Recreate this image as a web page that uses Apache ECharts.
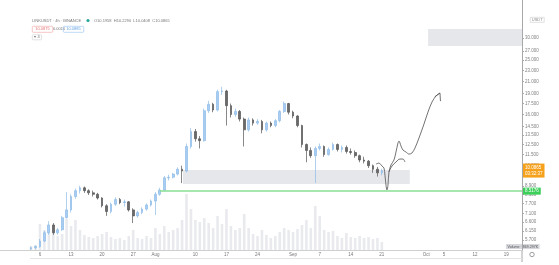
<!DOCTYPE html>
<html><head><meta charset="utf-8">
<script src="https://cdn.jsdelivr.net/npm/echarts@6/dist/echarts.min.js"></script>
<style>html,body{margin:0;padding:0;background:#fff}#c{width:559px;height:265px}</style>
</head><body><div id="c"></div>
<script>
// ---- data (daily candles) ----
const firstDay = '2020-07-04';
const opens = [
 5.30,5.35,5.40,5.65,6.05,6.45,6.05,6.20,6.85,7.30,
 8.15,8.55,8.75,8.55,8.40,8.30,8.05,7.55,7.20,7.65,
 7.95,7.75,7.80,7.30,6.95,7.15,7.35,7.60,7.85,8.30,
 8.60,9.50,9.55,9.80,10.20,10.05,12.30,13.90,13.10,12.90,
 16.50,17.40,16.60,19.30,19.40,17.20,16.00,16.40,15.40,14.10,
 15.30,14.90,15.10,14.10,14.90,14.60,15.20,16.40,17.50,16.30,
 15.80,14.60,12.50,11.90,11.40,12.10,12.30,11.50,12.00,12.50,
 12.00,12.20,11.80,11.70,11.40,11.00,10.90,10.50,10.20,9.90];
const closes = [
 5.35,5.40,5.65,6.05,6.45,6.05,6.20,6.85,7.30,8.15,
 8.55,8.75,8.55,8.40,8.30,8.05,7.55,7.20,7.65,7.95,
 7.75,7.80,7.30,6.95,7.15,7.35,7.60,7.85,8.30,8.60,
 9.50,9.55,9.80,10.20,10.05,12.30,13.90,13.10,12.90,16.50,
 17.40,16.60,19.30,19.40,17.20,16.00,16.40,15.40,14.10,15.30,
 14.90,15.10,14.10,14.90,14.60,15.20,16.40,17.50,16.30,15.80,
 14.60,12.50,11.90,11.40,12.10,12.30,11.50,12.00,12.50,12.00,
 12.20,11.80,11.70,11.40,11.00,10.90,10.50,10.20,9.90,10.0865];
const highs = [
 5.40,5.45,5.75,6.15,6.65,6.55,6.30,6.95,8.45,8.30,
 8.70,8.90,8.85,8.65,8.55,8.40,8.10,7.65,7.75,8.10,
 8.05,7.95,7.85,7.40,7.25,7.45,7.70,7.95,8.45,8.75,
 9.65,9.75,9.90,10.35,10.50,12.60,14.30,14.20,13.40,16.80,
 17.90,17.60,19.60,20.10,19.60,17.50,16.80,16.60,15.60,15.60,
 15.50,15.40,15.30,15.10,15.10,15.40,16.60,17.80,17.60,16.50,
 15.90,14.70,12.60,12.20,12.30,12.60,12.40,12.20,12.70,12.60,
 12.40,12.40,12.10,11.90,11.50,11.30,11.00,10.60,10.40,10.229];
const lows = [
 5.25,5.28,5.35,5.60,5.95,5.95,5.95,6.15,6.80,7.15,
 8.00,8.35,8.40,8.25,8.15,7.95,7.45,6.95,7.10,7.55,
 7.65,7.50,7.20,6.55,6.85,7.05,7.25,7.50,7.00,8.20,
 8.55,9.30,9.45,9.70,9.10,9.95,12.10,12.80,12.10,12.80,
 16.20,16.30,16.40,18.80,14.60,15.60,15.70,15.10,12.30,13.90,
 14.60,14.70,13.70,13.90,14.40,14.40,15.00,16.20,16.00,15.50,
 14.40,12.20,10.80,11.20,9.10,11.90,11.30,11.40,11.90,11.80,
 11.70,11.60,11.50,11.20,10.80,10.70,10.30,9.90,9.60,9.70];
const volumes = [
 4,5,26,20,22,18,14,16,31,24,
 30,20,15,13,12,14,16,18,13,11,
 12,10,14,20,12,11,14,12,22,16,
 24,18,20,22,30,56,41,30,28,32,
 27,22,34,26,41,24,20,22,36,22,
 16,14,20,15,12,14,18,22,20,18,
 21,25,30,22,44,34,20,18,19,14,
 12,17,13,12,14,12,13,11,12,8];

const priceTicks = [5.7,6.15,6.6,7.1,7.7,8.3,8.9,10.5,11.5,12.5,13.5,14.5,16,17.5,19,21,23,25,27,30];
const dateTicks = ['2020-07-06','2020-07-13','2020-07-20','2020-07-27','2020-08-01','2020-08-10','2020-08-17','2020-08-24','2020-09-01','2020-09-07','2020-09-14','2020-09-21','2020-10-01','2020-10-05','2020-10-12','2020-10-19'];
const dateTickLabels = ['6','13','20','27','Aug','10','17','24','Sep','7','14','21','Oct','5','12','19'];

const lastPrice = 10.0865;
const countdown = '03:32:37';
const supportLevel = 8.5176;
const supportStart = '2020-08-02T00:00:00Z';
const zoneBox = ['2020-08-07T05:00:00Z','2020-09-27T07:00:00Z', 9.03, 10.13];
const targetBox = ['2020-10-01T10:00:00Z', 28.1, 32.3];
const axisStart = '2020-06-27T00:00:00Z';
const axisEnd = '2020-10-22T13:30:00Z';

// freehand drawings: [days after drawBase, price]
const drawBase = '2020-07-06T00:00:00Z';
const drawArrow = [[75.7,10.64],[76.35,10.73],[77.03,10.47],[77.48,10.30],[77.7,9.72],[77.93,8.95],[78.15,8.60],[78.38,8.95],[78.6,9.97],[79.05,10.56],[79.73,11.0],[80.18,11.75],[80.63,12.65],[80.86,12.86],[81.31,12.34],[81.76,11.94],[82.43,11.75],[83.11,11.55],[83.78,11.65],[84.46,12.14],[85.36,13.18],[86.49,14.79],[87.39,16.32],[88.29,17.72],[89.19,18.62],[90.09,19.08]];
const drawArrowHead = [[88.9,18.5],[90.09,19.08],[90.2,17.85]];
const drawSmall = [[78.6,9.97],[79.28,10.47],[80.18,10.82],[81.08,11.09],[81.76,11.09],[82.2,10.82]];

// ---- build: x axis measured in days after drawBase ----
const DAY = 86400000;
const tb = Date.parse(drawBase);
const dayOf = s => (Date.parse(s.length === 10 ? s + 'T00:00:00Z' : s) - tb) / DAY;
const d0 = dayOf(firstDay);
const candles = opens.map((o,i)=>[d0+i, o, closes[i], lows[i], highs[i]]);
const vols = volumes.map((v,i)=>[d0+i, v]);
const xMin = dayOf(axisStart), xMax = dayOf(axisEnd);
const tickDays = dateTicks.map(dayOf);
const labelAt = v => { const i = tickDays.findIndex(t => Math.abs(t - v) < 1e-6); return i < 0 ? '' : dateTickLabels[i]; };

const FONT = 'Liberation Sans';
const chart = echarts.init(document.getElementById('c'), null, {renderer:'canvas'});
chart.setOption({
  animation:false,
  backgroundColor:'#fff',
  grid:[
    {left:0,right:37,top:0,bottom:15,containLabel:false},
    {left:0,right:37,bottom:15,height:60,containLabel:false}
  ],
  xAxis:[
    {type:'value',gridIndex:0,min:xMin,max:xMax,
     axisLine:{show:true,onZero:false,lineStyle:{color:'#cfcfcf',width:1}},
     axisTick:{show:false},
     splitLine:{show:false},
     axisLabel:{customValues:tickDays,formatter:v=>labelAt(v),fontSize:4.5,color:'#777',fontFamily:FONT,margin:2.5}},
    {type:'value',gridIndex:1,min:xMin,max:xMax,show:false}
  ],
  yAxis:[
    {type:'log',gridIndex:0,position:'right',min:5.25,max:41,
     axisLine:{show:true,onZero:false,lineStyle:{color:'#a8a8a8',width:1}},
     axisTick:{show:true,customValues:priceTicks,length:2,lineStyle:{color:'#a8a8a8'}},
     splitLine:{show:false},minorTick:{show:false},
     axisLabel:{customValues:priceTicks,formatter:v=>Number(v).toFixed(3),fontSize:4.5,color:'#808080',fontFamily:FONT,margin:3}},
    {type:'value',gridIndex:1,min:0,max:60,show:false,axisLine:{onZero:false}}
  ],
  series:[
    {type:'bar',xAxisIndex:1,yAxisIndex:1,data:vols,barWidth:2.6,z:1,
     itemStyle:{color:'rgba(190,194,204,0.34)'}},
    {type:'candlestick',xAxisIndex:0,yAxisIndex:0,data:candles,barWidth:2.2,z:3,
     itemStyle:{color:'#a9cdf2',color0:'#6a6a6a',borderColor:'#8dbbe8',borderColor0:'#555',borderWidth:0.7},
     markArea:{silent:true,itemStyle:{color:'#e6e7eb'},data:[
       [{xAxis:dayOf(zoneBox[0]),yAxis:zoneBox[2]},{xAxis:dayOf(zoneBox[1]),yAxis:zoneBox[3]}],
       [{xAxis:dayOf(targetBox[0]),yAxis:targetBox[1]},{xAxis:xMax,yAxis:targetBox[2]}]
     ]},
     markLine:{silent:true,symbol:'none',animation:false,data:[
       [{coord:[dayOf(supportStart),supportLevel],lineStyle:{color:'#86de92',width:1.5,type:'solid'},
         label:{show:true,position:'end',distance:1,formatter:supportLevel.toFixed(4),backgroundColor:'#3ccf5a',color:'#fff',fontSize:4.5,fontFamily:FONT,padding:[1,2]}},
        {coord:[xMax,supportLevel]}],
       [{coord:[xMin,lastPrice],lineStyle:{color:'rgba(0,0,0,0)',width:0.5,type:'solid'},
         label:{show:true,position:'end',distance:1,formatter:lastPrice.toFixed(4)+'\n'+countdown,backgroundColor:'#f5a11c',color:'#fff',fontSize:4.5,lineHeight:6,fontFamily:FONT,padding:[1,2]}},
        {coord:[xMax,lastPrice]}]
     ]}
    },
    {type:'line',xAxisIndex:0,yAxisIndex:0,data:drawArrow,showSymbol:false,smooth:0.3,z:4,
     lineStyle:{color:'#5a5a5a',width:0.85}},
    {type:'line',xAxisIndex:0,yAxisIndex:0,data:drawArrowHead,showSymbol:false,z:4,
     lineStyle:{color:'#5a5a5a',width:0.85}},
    {type:'line',xAxisIndex:0,yAxisIndex:0,data:drawSmall,showSymbol:false,smooth:0.4,z:4,
     lineStyle:{color:'#5a5a5a',width:0.85}}
  ],
  graphic:[
    {type:'text',left:32,top:18.5,style:{text:'LINKUSDT · 4h · BINANCE',fontSize:4,fill:'#777',fontFamily:FONT}},
    {type:'circle',shape:{cx:88,cy:20.5,r:1.6},style:{fill:'#26a69a'}},
    {type:'text',left:94,top:18.5,style:{text:'O10.1958  H10.2290  L10.0408  C10.0865',fontSize:4,fill:'#777',fontFamily:FONT}},
    {type:'text',left:32,top:26,style:{text:'10.0875',fontSize:4,fill:'#e57373',fontFamily:FONT,borderColor:'#f0a0a0',borderWidth:0.6,padding:[1,3],borderRadius:1}},
    {type:'text',left:53,top:27,style:{text:'0.0010',fontSize:4,fill:'#777',fontFamily:FONT}},
    {type:'text',left:63,top:26,style:{text:'10.0885',fontSize:4,fill:'#64a0e0',fontFamily:FONT,borderColor:'#90c0f0',borderWidth:0.6,padding:[1,3],borderRadius:1}},
    {type:'text',left:32,top:34.5,style:{text:'▾ 4',fontSize:4,fill:'#777',fontFamily:FONT,borderColor:'#ccc',borderWidth:0.6,padding:[0.5,2],borderRadius:1}},
    {type:'text',left:530,top:17,style:{text:'USDT',fontSize:4,fill:'#888',fontFamily:FONT,borderColor:'#ccc',borderWidth:0.6,padding:[0.5,1.5]}},
    {type:'text',left:506,top:244,style:{text:'Volume · 869.297K',fontSize:3.6,fill:'#555',fontFamily:FONT,backgroundColor:'#d6d8dd',padding:[0.5,1.5]}},
    {type:'line',shape:{x1:522,y1:250,x2:522,y2:262},style:{stroke:'#a8a8a8',lineWidth:1}},
    {type:'line',shape:{x1:30,y1:258.5,x2:522,y2:258.5},style:{stroke:'#e4e4e4',lineWidth:1}},
    {type:'circle',shape:{cx:532,cy:254.5,r:2.2},style:{fill:'none',stroke:'#777',lineWidth:0.7}}
  ]
});
</script></body></html>
